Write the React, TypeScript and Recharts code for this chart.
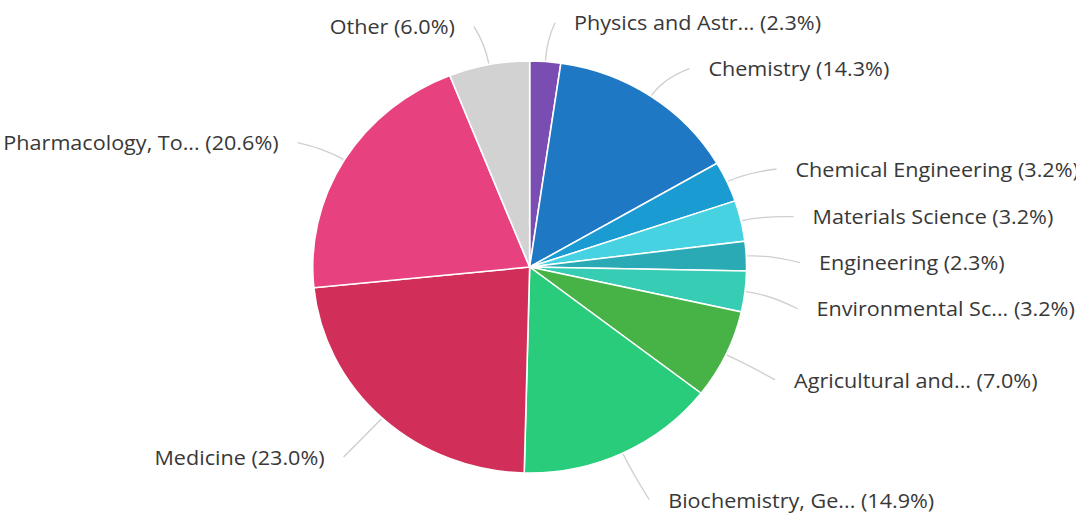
import { PieChart, Pie, Cell } from 'recharts';

const categories = [
  'Physics and Astr...',
  'Chemistry',
  'Chemical Engineering',
  'Materials Science',
  'Engineering',
  'Environmental Sc...',
  'Agricultural and...',
  'Biochemistry, Ge...',
  'Medicine',
  'Pharmacology, To...',
  'Other',
];
const shares = [2.3, 14.3, 3.2, 3.2, 2.3, 3.2, 7.0, 14.9, 23.0, 20.6, 6.0];
const colors = [
  '#7a4db3', '#1f78c3', '#1a9bd2', '#46d2e0', '#2aaab5', '#37cdb5',
  '#47b246', '#29cc7a', '#d12e59', '#e8417f', '#d2d2d2',
];

const data = categories.map((name, i) => ({ name, value: shares[i] }));

// the reference is stretched a little horizontally
const STRETCH = 1.053;
const W = 1022;
const H = 518;
const CX = 498; // recharts adds its 5px margin
const CY = 262;
const R = 206;
const LABEL_R = 251;
const LABEL_DY = 6;
const MIN_GAP = 46;

// angle clockwise from 12 o'clock, in degrees, for each slice middle
const total = shares.reduce((a, b) => a + b, 0);
const midAngles = shares.map((v, i) => {
  const before = shares.slice(0, i).reduce((a, b) => a + b, 0);
  return ((before + v / 2) / total) * 360;
});

// vertical offsets of labels from the label circle centre, spread so they don't collide
function layoutLabels() {
  const ys: number[] = midAngles.map((a) => -LABEL_R * Math.cos((a * Math.PI) / 180));
  const sides = [0, 1].map((s) =>
    midAngles
      .map((a, i) => ({ i, right: a < 180 }))
      .filter((d) => (s === 0 ? d.right : !d.right))
      .map((d) => d.i)
      .sort((a, b) => ys[a] - ys[b])
  );
  sides.forEach((idx) => {
    for (let k = 1; k < idx.length; k++) {
      const prev = ys[idx[k - 1]];
      if (ys[idx[k]] < prev + MIN_GAP) ys[idx[k]] = prev + MIN_GAP;
    }
  });
  return ys;
}
const labelOffsets = layoutLabels();

const renderLabel = (props: any) => {
  const { cx, cy, outerRadius, index } = props;
  const theta = (midAngles[index] * Math.PI) / 180;
  const right = midAngles[index] < 180;
  const side = right ? 1 : -1;
  const dy = labelOffsets[index];
  const y = cy + LABEL_DY + dy;
  const dx = Math.sqrt(Math.max(LABEL_R * LABEL_R - dy * dy, 0));
  const px = cx + side * dx;

  const sx = cx + (outerRadius + 1) * Math.sin(theta);
  const sy = cy - (outerRadius + 1) * Math.cos(theta);
  const kx = cx + (outerRadius + 22) * Math.sin(theta);
  const ky = cy - (outerRadius + 22) * Math.cos(theta);
  const ex = px + side * 6;

  return (
    <g>
      <path
        d={`M${sx},${sy} Q${kx},${ky} ${ex},${y}`}
        stroke="#cfcfcf"
        strokeWidth={1.3}
        fill="none"
      />
      <text
        x={px + side * 24}
        y={y}
        textAnchor={right ? 'start' : 'end'}
        dominantBaseline="central"
        fill="#383838"
        fontSize={20.5}
        fontFamily="'Open Sans', sans-serif"
      >
        {`${categories[index]} (${shares[index].toFixed(1)}%)`}
      </text>
    </g>
  );
};

export default function App() {
  return (
    <div style={{ position: 'absolute', left: 0, top: 0, width: 1076, height: 518, overflow: 'hidden', background: '#fff' }}>
      <div style={{ width: W, height: H, transform: `scaleX(${STRETCH})`, transformOrigin: '0 0' }}>
        <PieChart width={W} height={H}>
          <Pie
            data={data}
            dataKey="value"
            nameKey="name"
            cx={CX}
            cy={CY}
            outerRadius={R}
            startAngle={90}
            endAngle={-270}
            stroke="#fff"
            strokeWidth={1.5}
            label={renderLabel}
            labelLine={false}
            isAnimationActive={false}
          >
            {data.map((d, i) => (
              <Cell key={d.name} fill={colors[i]} />
            ))}
          </Pie>
        </PieChart>
      </div>
    </div>
  );
}
